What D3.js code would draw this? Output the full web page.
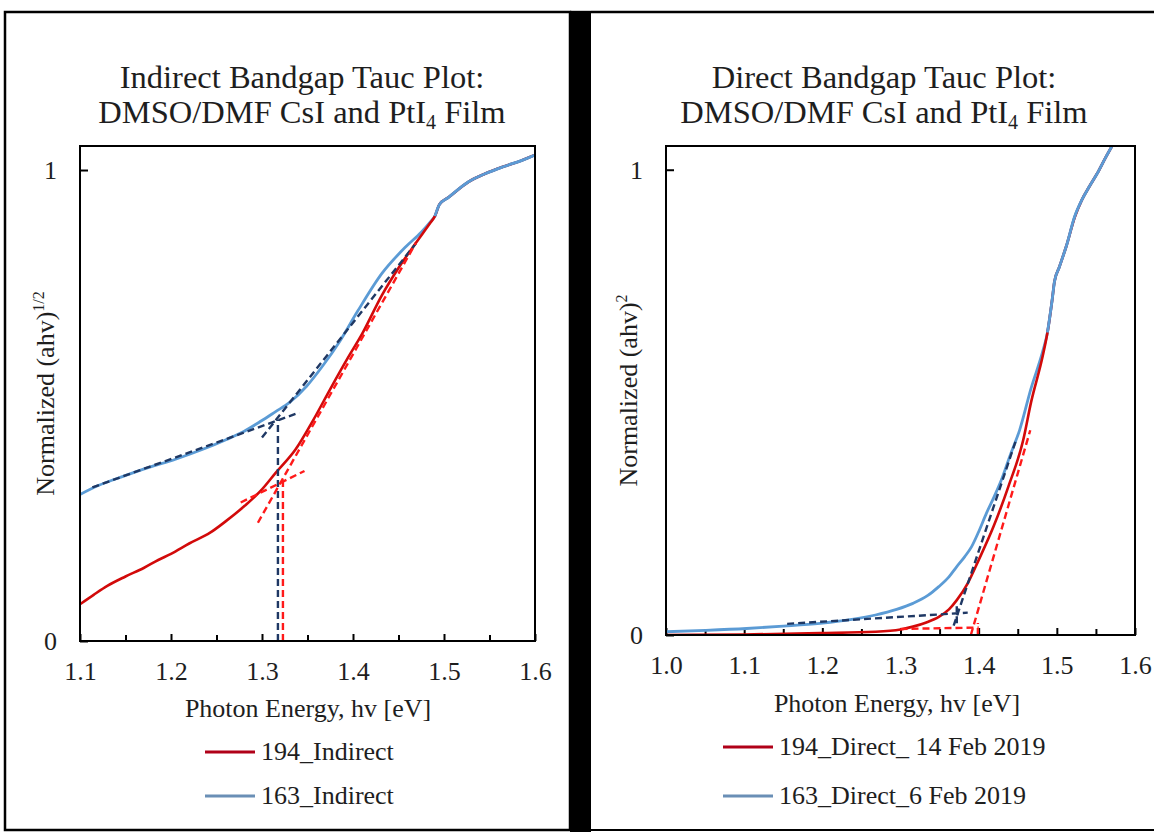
<!DOCTYPE html>
<html><head><meta charset="utf-8">
<script src="https://cdn.jsdelivr.net/npm/d3@7"></script>
<style>
body{margin:0;background:#fff}
text{font-family:"Liberation Serif","Times New Roman",serif;fill:#1e1e1e}
</style>
</head><body>
<svg id="chart" width="1154" height="832"></svg>
<script>
// ---------------- DATA ----------------
// Left panel: indirect Tauc plot, normalized (ahv)^1/2 vs photon energy [eV]
const indirect194 = [[1.100,0.078],[1.115,0.098],[1.130,0.117],[1.150,0.137],[1.170,0.155],[1.186,0.172],
  [1.200,0.185],[1.220,0.207],[1.243,0.230],[1.260,0.254],[1.281,0.287],[1.300,0.322],[1.315,0.357],
  [1.337,0.407],[1.356,0.468],[1.375,0.535],[1.394,0.600],[1.410,0.652],[1.432,0.735],[1.450,0.792],
  [1.469,0.845],[1.485,0.888],[1.490,0.902],[1.495,0.927],[1.505,0.942],[1.527,0.975],[1.545,0.992],
  [1.565,1.007],[1.585,1.020],[1.600,1.032]];
const indirect163 = [[1.100,0.311],[1.120,0.330],[1.148,0.350],[1.175,0.368],[1.205,0.386],[1.235,0.407],
  [1.261,0.428],[1.280,0.445],[1.299,0.467],[1.315,0.487],[1.330,0.506],[1.349,0.541],[1.367,0.585],
  [1.385,0.635],[1.405,0.700],[1.432,0.781],[1.458,0.837],[1.475,0.868],[1.485,0.890],[1.490,0.902],
  [1.495,0.927],[1.505,0.942],[1.527,0.975],[1.545,0.992],[1.565,1.007],[1.585,1.020],[1.600,1.032]];
// linear-fit guide lines (dashed) of the indirect plot
const indirectFit163Low   = [[1.1136,0.326],[1.341,0.485]];
const indirectFit163Steep = [[1.300,0.432],[1.469,0.844]];
const indirectFit163Drop  = [[1.3175,0.000],[1.3175,0.470]];
const indirectFit194Low   = [[1.2766,0.294],[1.3467,0.361]];
const indirectFit194Steep = [[1.2955,0.251],[1.469,0.845]];
const indirectFit194Drop  = [[1.323,0.000],[1.323,0.340]];

// Right panel: direct Tauc plot, normalized (ahv)^2 vs photon energy [eV]
const direct194 = [[1.000,0.000],[1.100,0.001],[1.197,0.004],[1.268,0.007],[1.300,0.012],[1.316,0.018],
  [1.333,0.027],[1.349,0.039],[1.362,0.055],[1.372,0.075],[1.386,0.111],[1.400,0.161],[1.419,0.233],
  [1.438,0.319],[1.457,0.419],[1.467,0.500],[1.482,0.600],[1.488,0.650],[1.494,0.720],[1.497,0.760],
  [1.503,0.790],[1.512,0.835],[1.523,0.898],[1.532,0.935],[1.542,0.965],[1.552,0.993],[1.562,1.025],[1.571,1.052]];
const direct163 = [[1.000,0.007],[1.050,0.010],[1.103,0.014],[1.150,0.019],[1.197,0.025],[1.240,0.034],
  [1.268,0.043],[1.295,0.055],[1.316,0.068],[1.335,0.085],[1.349,0.104],[1.362,0.125],[1.372,0.147],
  [1.382,0.168],[1.391,0.190],[1.400,0.222],[1.410,0.262],[1.420,0.298],[1.429,0.333],[1.440,0.385],
  [1.4525,0.441],[1.467,0.530],[1.482,0.610],[1.488,0.650],[1.494,0.720],[1.497,0.760],[1.503,0.790],
  [1.512,0.835],[1.523,0.900],[1.532,0.935],[1.542,0.965],[1.552,0.993],[1.562,1.025],[1.571,1.052]];
const directFit163Low   = [[1.155,0.024],[1.386,0.048]];
const directFit163Steep = [[1.368,0.020],[1.448,0.420]];
const directFit163Drop  = [[1.372,0.025],[1.372,0.062]];
const directFit194Low   = [[1.300,0.013],[1.400,0.016]];
const directFit194Steep = [[1.390,0.000],[1.466,0.440]];
const directFit194Drop  = [[1.399,0.000],[1.399,0.026]];

// axes / labels
const indirectXDomain = [1.1, 1.6];
const directXDomain = [1.0, 1.6];
const yDomain = [0, 1.051];
const yTickValues = [0, 1];
const indirectXTicks = [1.1, 1.2, 1.3, 1.4, 1.5, 1.6];
const indirectXMinor = [1.15, 1.25, 1.35, 1.45, 1.55];
const directXTicks = [1.0, 1.1, 1.2, 1.3, 1.4, 1.5, 1.6];
const directXMinor = [1.05, 1.15, 1.25, 1.35, 1.45, 1.55];
const indirectTitle = ["Indirect Bandgap Tauc Plot:", "DMSO/DMF CsI and PtI", "4", " Film"];
const directTitle = ["Direct Bandgap Tauc Plot:", "DMSO/DMF CsI and PtI", "4", " Film"];
const xAxisTitle = "Photon Energy, hv [eV]";
const indirectYTitle = ["Normalized (ahv)", "1/2"];
const directYTitle = ["Normalized (ahv)", "2"];
const indirectLegend = ["194_Indirect", "163_Indirect"];
const directLegend = ["194_Direct_ 14 Feb 2019", "163_Direct_6 Feb 2019"];

// ---------------- STYLE ----------------
const RED = "#d20a0a", BLUE = "#5b9bd5", NAVY = "#1f3864", FITRED = "#ff1a1a";
const LEG_RED = "#b00018", LEG_BLUE = "#6a8fb6";

const svg = d3.select("#chart");
svg.append("rect").attr("width",1154).attr("height",832).attr("fill","#fff");

// panel frames and the thick divider
svg.append("rect").attr("x",5).attr("y",12).attr("width",565).attr("height",818)
  .attr("fill","none").attr("stroke","#000").attr("stroke-width",2.5);
svg.append("line").attr("x1",591).attr("x2",1154).attr("y1",12).attr("y2",12)
  .attr("stroke","#000").attr("stroke-width",2.5);
svg.append("line").attr("x1",591).attr("x2",1154).attr("y1",830).attr("y2",830)
  .attr("stroke","#000").attr("stroke-width",2);
svg.append("rect").attr("x",570).attr("y",10.8).attr("width",21).attr("height",822).attr("fill","#000");

function panel(o) {
  const g = svg.append("g");
  const x = d3.scaleLinear().domain(o.xDomain).range([o.left, o.right]);
  const y = d3.scaleLinear().domain(yDomain).range([o.bottom, o.top]);
  const cx = (o.left + o.right) / 2;

  // title
  const t = g.append("text").attr("text-anchor","middle").style("font-size","32.5px");
  t.append("tspan").attr("x",o.titleX).attr("y",o.titleY).text(o.title[0]);
  const l2 = t.append("tspan").attr("x",o.titleX).attr("y",o.titleY + 35);
  l2.append("tspan").text(o.title[1]);
  l2.append("tspan").attr("dy",6).style("font-size","20px").text(o.title[2]);
  l2.append("tspan").attr("dy",-6).text(o.title[3]);

  // axes
  const xMaj = d3.axisBottom(x).tickValues(o.xTicks).tickFormat(d3.format(".1f"))
    .tickSizeInner(-7).tickSizeOuter(0).tickPadding(21);
  const xMin = d3.axisBottom(x).tickValues(o.xMinor).tickFormat("")
    .tickSizeInner(-6).tickSizeOuter(0);
  const ax = g.append("g").attr("transform",`translate(0,${o.bottom})`).call(xMaj);
  g.append("g").attr("transform",`translate(0,${o.bottom})`).call(xMin).select(".domain").remove();
  ax.select(".domain").remove();
  ax.selectAll("text").style("font-size","26px").attr("fill","#1e1e1e").style("font-family",'"Liberation Serif",serif');
  g.selectAll(".tick line").attr("stroke","#000").attr("stroke-width",2);

  const yAx = d3.axisLeft(y).tickValues(yTickValues).tickFormat(d3.format("d"))
    .tickSizeInner(-8).tickSizeOuter(0).tickPadding(23);
  const ay = g.append("g").attr("transform",`translate(${o.left},0)`).call(yAx);
  ay.select(".domain").remove();
  ay.selectAll("text").style("font-size","26px").attr("fill","#1e1e1e").style("font-family",'"Liberation Serif",serif');
  ay.selectAll(".tick line").attr("stroke","#000").attr("stroke-width",2);

  // plot clip
  const clipId = "clip" + o.id;
  svg.append("clipPath").attr("id",clipId).append("rect")
    .attr("x",o.left).attr("y",o.top).attr("width",o.right-o.left).attr("height",o.bottom-o.top);

  const line = d3.line().x(d => x(d[0])).y(d => y(d[1])).curve(d3.curveMonotoneX);
  const straight = d3.line().x(d => x(d[0])).y(d => y(d[1]));
  const pg = g.append("g").attr("clip-path",`url(#${clipId})`);
  pg.append("path").datum(o.s163).attr("d",line).attr("fill","none")
    .attr("stroke",BLUE).attr("stroke-width",2.8).attr("stroke-linejoin","round");
  pg.append("path").datum(o.s194).attr("d",line).attr("fill","none")
    .attr("stroke",RED).attr("stroke-width",2.6).attr("stroke-linejoin","round");
  // where both curves coincide the later-drawn blue is the one seen
  pg.append("path").datum(o.s163.filter(d => d[0] >= o.shareFrom)).attr("d",line).attr("fill","none")
    .attr("stroke",BLUE).attr("stroke-width",2.8);

  o.fits.forEach(f => {
    pg.append("path").datum(f.pts).attr("d",straight).attr("fill","none")
      .attr("stroke",f.color).attr("stroke-width",2.4).attr("stroke-dasharray","7,4");
  });

  // plot border
  g.append("rect").attr("x",o.left).attr("y",o.top).attr("width",o.right-o.left).attr("height",o.bottom-o.top)
    .attr("fill","none").attr("stroke","#000").attr("stroke-width",2);

  // axis titles
  g.append("text").attr("x",o.xTitleX).attr("y",o.xTitleY).attr("text-anchor","middle")
    .style("font-size","26px").text(xAxisTitle);
  const yt = g.append("text").attr("text-anchor","middle").style("font-size","26px")
    .attr("transform",`translate(${o.yTitleX},${(o.top+o.bottom)/2}) rotate(-90)`);
  yt.append("tspan").text(o.yTitle[0]);
  yt.append("tspan").attr("dy",-10).style("font-size","16px").text(o.yTitle[1]);

  // legend
  o.legend.forEach((lab, i) => {
    const ly = o.legendY[i];
    g.append("line").attr("x1",o.legendX).attr("x2",o.legendX+50).attr("y1",ly).attr("y2",ly)
      .attr("stroke", i === 0 ? LEG_RED : LEG_BLUE).attr("stroke-width",3);
    g.append("text").attr("x",o.legendX+56).attr("y",ly+8).style("font-size","26px").text(lab);
  });
}

panel({id:"L", xDomain:indirectXDomain, left:80, right:535, top:146, bottom:641,
  xTicks:indirectXTicks, xMinor:indirectXMinor, title:indirectTitle, titleX:302, titleY:88,
  s194:indirect194, s163:indirect163, shareFrom:1.49,
  fits:[{pts:indirectFit163Low,color:NAVY},{pts:indirectFit163Steep,color:NAVY},{pts:indirectFit163Drop,color:NAVY},
        {pts:indirectFit194Low,color:FITRED},{pts:indirectFit194Steep,color:FITRED},{pts:indirectFit194Drop,color:FITRED}],
  xTitleX:308, xTitleY:717, yTitleX:54, yTitle:indirectYTitle,
  legend:indirectLegend, legendX:205, legendY:[752,796]});

panel({id:"R", xDomain:directXDomain, left:666, right:1135, top:146, bottom:635,
  xTicks:directXTicks, xMinor:directXMinor, title:directTitle, titleX:884, titleY:88,
  s194:direct194, s163:direct163, shareFrom:1.488,
  fits:[{pts:directFit163Low,color:NAVY},{pts:directFit163Steep,color:NAVY},{pts:directFit163Drop,color:NAVY},
        {pts:directFit194Low,color:FITRED},{pts:directFit194Steep,color:FITRED},{pts:directFit194Drop,color:FITRED}],
  xTitleX:897, xTitleY:712, yTitleX:637, yTitle:directYTitle,
  legend:directLegend, legendX:723, legendY:[747,796]});
</script>
</body></html>
